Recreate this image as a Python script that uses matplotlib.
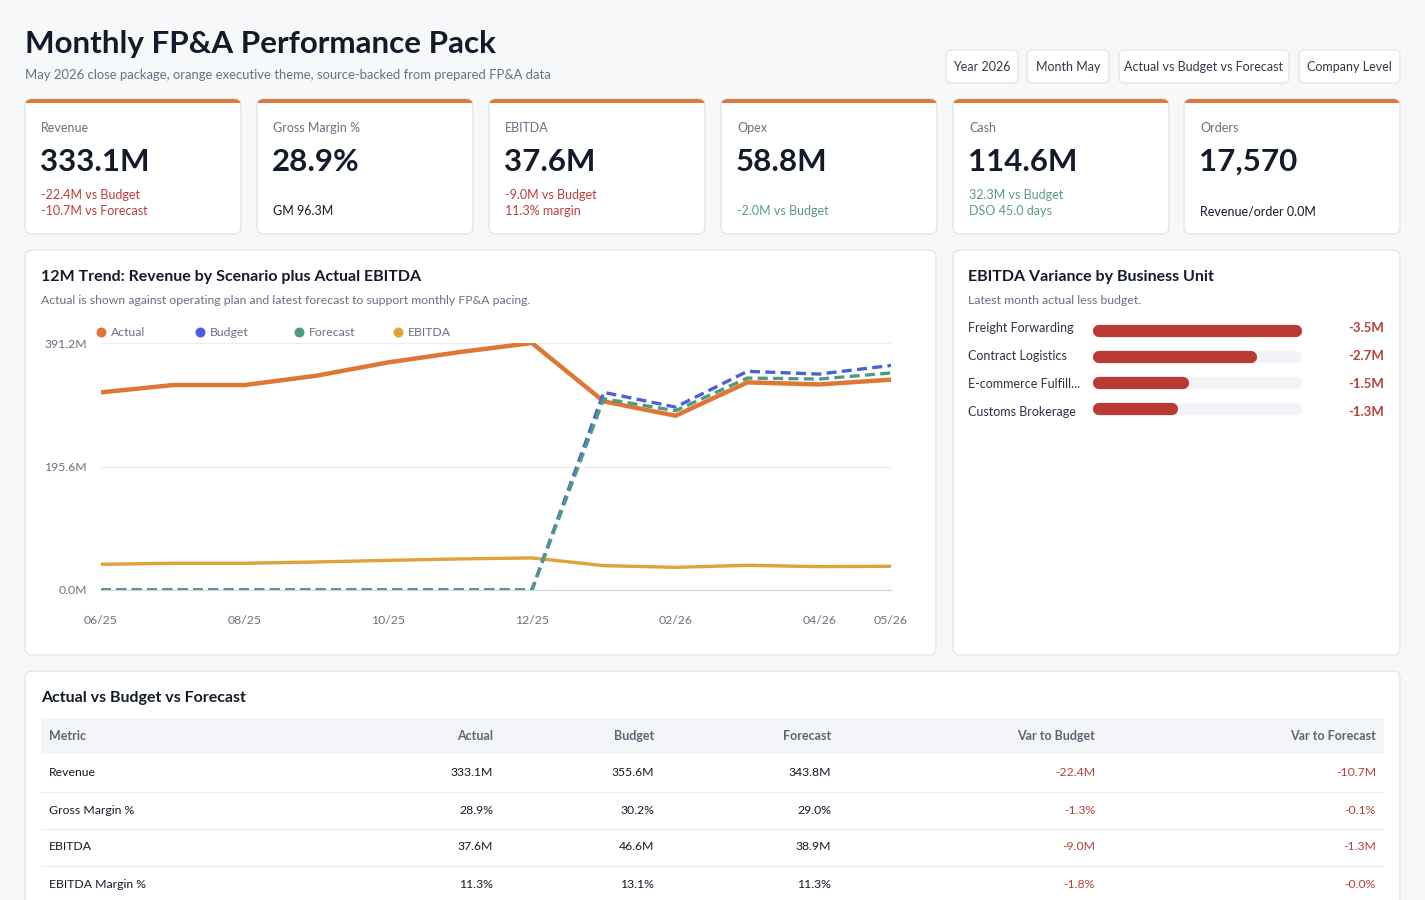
import matplotlib
matplotlib.use("Agg")
import matplotlib.pyplot as plt
from matplotlib.patches import FancyBboxPatch, Rectangle

plt.rcParams['font.family'] = ['Lato', 'DejaVu Sans']

W, H = 1425, 900

# ---- data ----
months = ['06/25', '07/25', '08/25', '09/25', '10/25', '11/25', '12/25',
          '01/26', '02/26', '03/26', '04/26', '05/26']
actual = [313.0, 324.6, 324.6, 339.4, 360.5, 376.9, 391.2, 298.7, 276.0, 328.8, 325.6, 333.1]
budget = [0, 0, 0, 0, 0, 0, 0, 313.0, 289.7, 346.3, 342.0, 355.6]
forecast = [0, 0, 0, 0, 0, 0, 0, 302.9, 283.9, 335.7, 334.1, 343.8]
ebitda = [40.7, 42.3, 42.3, 44.4, 47.0, 49.2, 50.8, 38.6, 35.9, 39.1, 37.0, 37.6]
shown_months = ['06/25', '08/25', '10/25', '12/25', '02/26', '04/26', '05/26']

units = ['Freight Forwarding', 'Contract Logistics', 'E-commerce Fulfill...', 'Customs Brokerage']
unit_var = [-3.5, -2.7, -1.5, -1.3]

kpi_labels = ['Revenue', 'Gross Margin %', 'EBITDA', 'Opex', 'Cash', 'Orders']
kpi_values = ['333.1M', '28.9%', '37.6M', '58.8M', '114.6M', '17,570']
kpi_notes = [['-22.4M vs Budget', '-10.7M vs Forecast'], ['GM 96.3M'],
             ['-9.0M vs Budget', '11.3% margin'], ['-2.0M vs Budget'],
             ['32.3M vs Budget', 'DSO 45.0 days'], ['Revenue/order 0.0M']]
kpi_tone = ['neg', 'plain', 'neg', 'pos', 'pos', 'plain']

filters = ['Year 2026', 'Month May', 'Actual vs Budget vs Forecast', 'Company Level']

tbl_cols = ['Metric', 'Actual', 'Budget', 'Forecast', 'Var to Budget', 'Var to Forecast']
tbl_rows = [['Revenue', '333.1M', '355.6M', '343.8M', '-22.4M', '-10.7M'],
            ['Gross Margin %', '28.9%', '30.2%', '29.0%', '-1.3%', '-0.1%'],
            ['EBITDA', '37.6M', '46.6M', '38.9M', '-9.0M', '-1.3M'],
            ['EBITDA Margin %', '11.3%', '13.1%', '11.3%', '-1.8%', '-0.0%']]

# ---- colours ----
BG = '#f7f8fa'
CARD_EDGE = '#e3e6ec'
ORANGE = '#d97a3c'
DARK = '#131a2a'
GREY = '#687182'
RED = '#b5403a'
GREEN = '#5b9a88'
C_ACT, C_BUD, C_FC, C_EB = '#dd7834', '#4b5fd6', '#4f9a86', '#e0a33a'

fig = plt.figure(figsize=(W / 100, H / 100), dpi=100, facecolor=BG)
bg = fig.add_axes([0, 0, 1, 1], zorder=0)
bg.set_xlim(0, W)
bg.set_ylim(H, 0)
bg.axis('off')


def card(x0, y0, x1, y1, top=False, r=7):
    p = FancyBboxPatch((x0, y0), x1 - x0, y1 - y0, boxstyle=f"round,pad=0,rounding_size={r}",
                       facecolor='white', edgecolor=CARD_EDGE, linewidth=1)
    bg.add_patch(p)
    if top:
        s = FancyBboxPatch((x0, y0), x1 - x0, y1 - y0, boxstyle=f"round,pad=0,rounding_size={r}",
                           facecolor=ORANGE, edgecolor='none')
        bg.add_patch(s)
        clip = Rectangle((x0 - 2, y0 - 2), x1 - x0 + 4, 6, transform=bg.transData)
        s.set_clip_path(clip)


def px_axes(x0, y0, x1, y1):
    return fig.add_axes([x0 / W, 1 - y1 / H, (x1 - x0) / W, (y1 - y0) / H], zorder=2)


# ---- header ----
bg.text(25, 44, 'Monthly FP&A Performance Pack', fontsize=22.6, fontweight='bold',
        color=DARK, va='center')
bg.text(25, 75, 'May 2026 close package, orange executive theme, source-backed from prepared FP&A data',
        fontsize=9.4, color=GREY, va='center')

fx = [946, 1027, 1119, 1299]
fw = [72, 82, 170, 101]
for x, w, t in zip(fx, fw, filters):
    bg.add_patch(FancyBboxPatch((x, 50), w, 33, boxstyle="round,pad=0,rounding_size=5",
                                facecolor='white', edgecolor=CARD_EDGE, linewidth=1))
    bg.text(x + w / 2, 67, t, fontsize=9, color='#333a48', ha='center', va='center')

# ---- KPI cards ----
kx = [25, 257, 489, 721, 953, 1184]
for i, x in enumerate(kx):
    card(x, 99, x + 216, 234, top=True)
    bg.text(x + 16, 128, kpi_labels[i], fontsize=9, color=GREY, va='center')
    bg.text(x + 15, 162, kpi_values[i], fontsize=22.5, fontweight='bold', color=DARK, va='center')
    col = {'neg': RED, 'pos': GREEN, 'plain': DARK}[kpi_tone[i]]
    notes = kpi_notes[i]
    ys = [195, 211] if len(notes) == 2 else [211]
    for y, t in zip(ys, notes):
        bg.text(x + 16, y, t, fontsize=9, color=col, va='center')

# ---- trend panel ----
card(25, 250, 936, 655)
bg.text(41, 277, '12M Trend: Revenue by Scenario plus Actual EBITDA', fontsize=11.5,
        fontweight='bold', color=DARK, va='center')
bg.text(41, 301, 'Actual is shown against operating plan and latest forecast to support monthly FP&A pacing.',
        fontsize=8.8, color=GREY, va='center')

ax = px_axes(101, 343, 891, 590)
ax.set_facecolor('none')
xs = list(range(len(months)))
ax.plot(xs, actual, color=C_ACT, lw=3.2, solid_joinstyle='round', zorder=3)
ax.plot(xs, budget, color=C_BUD, lw=2.4, dashes=(3, 1.6), zorder=4)
ax.plot(xs, forecast, color=C_FC, lw=2.4, dashes=(3, 1.6), zorder=5)
ax.plot(xs, ebitda, color=C_EB, lw=2.4, zorder=3)
ax.set_xlim(0, len(months) - 1)
ax.set_ylim(0, 391.2)
ax.set_yticks([0, 195.6, 391.2])
ax.set_yticklabels(['0.0M', '195.6M', '391.2M'])
ax.set_xticks([months.index(m) for m in shown_months])
ax.set_xticklabels(shown_months)
ax.tick_params(length=0, labelsize=8.8, labelcolor=GREY)
ax.tick_params(axis='x', pad=18)
ax.tick_params(axis='y', pad=10)
ax.grid(axis='y', color='#e9ecf1', lw=1)
ax.set_axisbelow(True)
for s in ['top', 'right', 'left']:
    ax.spines[s].set_visible(False)
ax.spines['bottom'].set_color('#cfd3dc')

legend_names = ['Actual', 'Budget', 'Forecast', 'EBITDA']
legend_cols = [C_ACT, C_BUD, C_FC, C_EB]
for j, (n, c) in enumerate(zip(legend_names, legend_cols)):
    lx = 101 + j * 99
    bg.scatter([lx], [332], s=38, color=c, zorder=3)
    bg.text(lx + 10, 332, n, fontsize=8.8, color=GREY, va='center')

# ---- variance panel ----
card(953, 250, 1400, 655)
bg.text(968, 277, 'EBITDA Variance by Business Unit', fontsize=11.5, fontweight='bold',
        color=DARK, va='center')
bg.text(968, 301, 'Latest month actual less budget.', fontsize=8.8, color=GREY, va='center')

bx = px_axes(1099, 318, 1296, 422)
bx.set_facecolor('none')
bx.axis('off')
vmax = max(abs(v) for v in unit_var)
for k, (u, v) in enumerate(zip(units, unit_var)):
    bx.plot([0, vmax], [k, k], color='#f1f3f7', lw=8.8, solid_capstyle='round', clip_on=False)
    bx.plot([0, abs(v)], [k, k], color='#b93a33', lw=8.8, solid_capstyle='round', clip_on=False)
bx.set_xlim(0, vmax)
bx.set_ylim(len(units) - 0.5, -0.5)
for k, (u, v) in enumerate(zip(units, unit_var)):
    y = 328 + 28 * k
    bg.text(968, y, u, fontsize=9, color='#2b3242', va='center')
    bg.text(1384, y, f'{v:.1f}M', fontsize=9.5, fontweight='bold', color=RED, va='center', ha='right')

# ---- table ----
card(25, 671, 1400, 915)
bg.text(41, 698, 'Actual vs Budget vs Forecast', fontsize=11.5, fontweight='bold', color=DARK, va='center')
bg.add_patch(Rectangle((41, 718), 1343, 36, facecolor='#f3f5f8', edgecolor='none'))
col_x = [49, 493, 654, 831, 1095, 1376]
for c, (x, name) in enumerate(zip(col_x, tbl_cols)):
    bg.text(x, 736, name, fontsize=9, fontweight='bold', color='#5d6677', va='center',
            ha='left' if c == 0 else 'right')
for r, row in enumerate(tbl_rows):
    y = 773 + 37 * r
    if r < len(tbl_rows) - 1:
        bg.plot([41, 1384], [y + 18.5, y + 18.5], color='#eceef2', lw=1)
    for c, (x, val) in enumerate(zip(col_x, row)):
        col = RED if c >= 4 else DARK
        bg.text(x, y, val, fontsize=8.8, color=col, va='center', ha='left' if c == 0 else 'right')

fig.savefig('out.png', dpi=100, facecolor=BG)
